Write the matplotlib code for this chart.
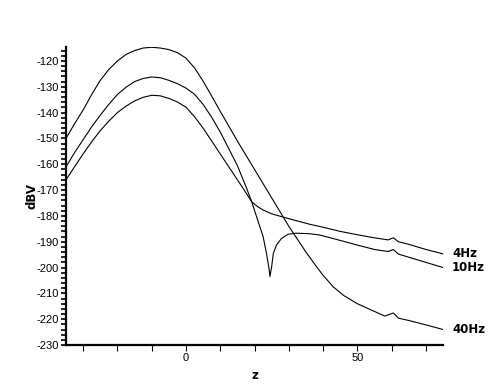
import matplotlib
matplotlib.use("Agg")
import matplotlib.pyplot as plt
import matplotlib.transforms as mtransforms
from matplotlib.ticker import FixedLocator, FixedFormatter, MultipleLocator

plt.rcParams["axes.unicode_minus"] = False

# ---- data ----
z_40 = [-35, -32.5, -30, -27.5, -25, -22.5, -20, -17.5, -15, -12.5, -10, -7.5, -5,
        -2.5, 0, 2.5, 5, 7.5, 10, 15, 20, 25, 30, 35, 38, 40, 43, 46,
        50, 55, 58, 60.5, 62, 65, 70, 75]
db_40 = [-150, -144.3, -139, -133, -127.5, -123.3, -120, -117.5, -116, -115, -114.7,
         -115, -115.6, -116.8, -118.9, -122.7, -127.8, -133.6, -139.5, -151, -162,
         -173, -184, -194, -199.5, -203, -207.5, -210.8, -214, -217, -218.8, -217.6,
         -219.6, -220.5, -222.2, -224]

z_10 = [-35, -32.5, -30, -27.5, -25, -22.5, -20, -17.5, -15, -12.5, -10, -7.5, -5,
        -2.5, 0, 2.5, 5, 7.5, 10, 12.5, 15, 17.7, 19.2, 20.6, 22.5, 23.5,
        24.3, 24.5, 25, 25.5, 26.4, 27.9, 29.8, 32, 36, 39, 45, 50, 55, 59, 60.5, 62,
        65, 70, 75]
db_10 = [-161, -155.5, -150.5, -145.5, -141, -136.8, -133, -130.2, -128, -126.8,
         -126.2, -126.5, -127.5, -128.8, -130.5, -132.9, -136.8, -141.8, -147.5, -154,
         -160.5, -169.3, -174.6, -180.3, -188, -194.5, -201, -203.5, -199.7, -194.5,
         -191.3, -188.7, -187.1, -186.7, -186.9, -187.4, -189.5, -191.3, -193, -193.8,
         -193.0, -194.8, -196, -198, -200]

z_4 = [-35, -32.5, -30, -27.5, -25, -22.5, -20, -17.5, -15, -12.5, -10, -7.5, -5,
       -2.5, 0, 2.5, 5, 7.5, 10, 12.5, 15, 17, 19.2, 21, 22.5, 25, 27.9, 32,
       36, 40, 45, 50, 55, 59, 60.5, 62, 65, 70, 75]
db_4 = [-166, -161, -156, -151.3, -147, -143.3, -140, -137.5, -135.5, -134.1, -133.3,
        -133.5, -134.5, -135.9, -137.9, -141.6, -146.0, -151, -156, -161, -166,
        -170, -174.6, -176.5, -177.7, -179.2, -180.3, -181.8, -183.2, -184.4, -186,
        -187.3, -188.5, -189.3, -188.5, -190, -191, -193, -194.7]

series = [("4Hz", z_4, db_4), ("10Hz", z_10, db_10), ("40Hz", z_40, db_40)]

x_major = [-30, -20, -10, 0, 10, 20, 30, 40, 50, 60, 70]
x_labels = ["", "", "", "0", "", "", "", "", "50", "", ""]
y_major = [-120, -130, -140, -150, -160, -170, -180, -190, -200, -210, -220, -230]

# ---- figure ----
fig = plt.figure(figsize=(5.04, 3.90), dpi=100)
ax = fig.add_axes([66 / 504, 45 / 390, (443 - 66) / 504, (345 - 47) / 390])

for name, zz, dd in series:
    ax.plot(zz, dd, color="black", linewidth=0.8)

ax.set_xlim(-35, 75)
ax.set_ylim(-230, -114.6)

for s in ["top", "right"]:
    ax.spines[s].set_visible(False)
for s in ["left", "bottom"]:
    ax.spines[s].set_linewidth(1.6)

ax.xaxis.set_major_locator(FixedLocator(x_major))
ax.xaxis.set_major_formatter(FixedFormatter(x_labels))
ax.yaxis.set_major_locator(FixedLocator(y_major))
ax.yaxis.set_minor_locator(MultipleLocator(2))

ax.tick_params(axis="y", which="both", direction="out", length=3.5, width=1.2,
               pad=1.5, labelsize=8)
ax.tick_params(axis="x", which="major", direction="out", length=4, width=0.8,
               pad=2, labelsize=8)
for lab in ax.get_xticklabels() + ax.get_yticklabels():
    lab.set_family("Liberation Sans")

ax.set_ylabel("dBV", fontsize=8.5, fontweight="bold", family="DejaVu Sans", labelpad=-1)
ax.set_xlabel("z", fontsize=8.5, fontweight="bold", family="DejaVu Sans", labelpad=4)

# right-hand series labels, placed at each series' end value
trans = mtransforms.blended_transform_factory(ax.transAxes, ax.transData)
for name, zz, dd in series:
    ax.text(1.024, dd[-1], name, transform=trans, fontsize=8.5, fontweight="bold",
            family="DejaVu Sans", va="center", ha="left", clip_on=False)

fig.savefig("out.png", dpi=100)
